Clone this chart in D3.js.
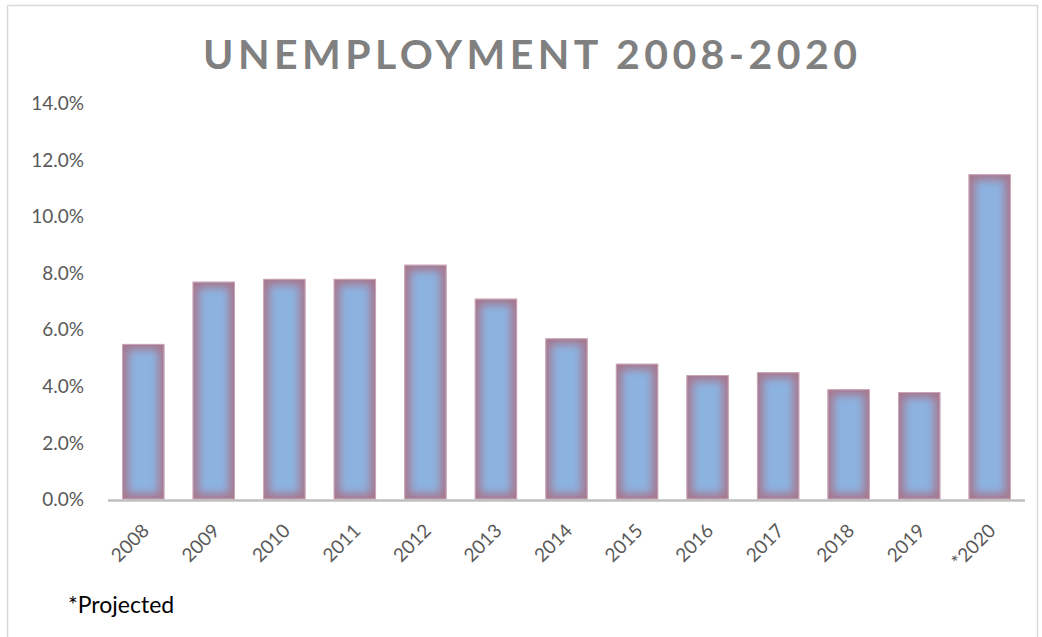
<!DOCTYPE html>
<html>
<head>
<meta charset="utf-8">
<script src="https://cdn.jsdelivr.net/npm/d3@7"></script>
<style>
  body { margin: 0; background: #fff; }
  svg { display: block; }
</style>
</head>
<body>
<script>
'use strict';

const years = ['2008', '2009', '2010', '2011', '2012', '2013', '2014', '2015', '2016', '2017', '2018', '2019', '*2020'];
const rates = [5.5, 7.7, 7.8, 7.8, 8.3, 7.1, 5.7, 4.8, 4.4, 4.5, 3.9, 3.8, 11.5];
const yTicks = [0, 2, 4, 6, 8, 10, 12, 14];
const title = 'UNEMPLOYMENT 2008-2020';
const note = '*Projected';

const width = 1042;
const height = 637;
const font = 'Lato, "Open Sans", sans-serif';

const $svg = d3.select('body').append('svg')
  .attr('width', width)
  .attr('height', height);

// chart frame
$svg.append('rect')
  .attr('x', 7.5).attr('y', 5.5)
  .attr('width', 1030).attr('height', 650)
  .attr('fill', 'none')
  .attr('stroke', '#d9d9d9')
  .attr('stroke-width', 1.5);

const x = d3.scaleBand()
  .domain(years)
  .range([108, 1025])
  .paddingInner(0.4)
  .paddingOuter(0.2);

const y = d3.scaleLinear()
  .domain([0, 14])
  .range([499.5, 103.5]);

const defs = $svg.append('defs');
defs.append('filter')
  .attr('id', 'soft')
  .attr('x', '-30%').attr('y', '-30%')
  .attr('width', '160%').attr('height', '160%')
  .append('feGaussianBlur')
  .attr('stdDeviation', 4);

// title
$svg.append('text')
  .attr('x', 203)
  .attr('y', 69)
  .attr('textLength', 654)
  .attr('lengthAdjust', 'spacing')
  .attr('font-family', font)
  .attr('font-weight', 'bold')
  .attr('font-size', 41)
  .attr('fill', '#808080')
  .text(title);

// y axis labels (no line)
const $yAxis = $svg.append('g')
  .attr('transform', 'translate(84,0)')
  .call(d3.axisLeft(y).tickValues(yTicks).tickSize(0).tickPadding(0)
    .tickFormat((d) => d3.format('.1f')(d) + '%'));
$yAxis.select('.domain').remove();
$yAxis.selectAll('text')
  .attr('font-family', font)
  .attr('font-size', 19)
  .attr('fill', '#595959');

// bars
const $bars = $svg.append('g').selectAll('.bar')
  .data(years.map((k, i) => ({ year: k, value: rates[i] })))
  .enter()
  .append('g')
  .attr('class', 'bar');

$bars.each(function(d, i) {
  const $g = d3.select(this);
  const bx = x(d.year);
  const bw = x.bandwidth();
  const by = y(d.value);
  const bh = y(0) - by;
  defs.append('clipPath')
    .attr('id', 'clip' + i)
    .append('rect')
    .attr('x', bx).attr('y', by)
    .attr('width', bw).attr('height', bh);
  $g.append('rect')
    .attr('x', bx).attr('y', by)
    .attr('width', bw).attr('height', bh)
    .attr('fill', '#a7778e');
  $g.append('g')
    .attr('clip-path', 'url(#clip' + i + ')')
    .append('rect')
    .attr('x', bx + 6).attr('y', by + 6)
    .attr('width', bw - 12).attr('height', Math.max(0, bh - 12))
    .attr('fill', '#8cb2e0')
    .attr('filter', 'url(#soft)');
  $g.append('rect')
    .attr('x', bx + 0.5).attr('y', by + 0.5)
    .attr('width', bw - 1).attr('height', bh - 1)
    .attr('fill', 'none')
    .attr('stroke', '#d8b9c6')
    .attr('stroke-width', 1)
    .attr('stroke-opacity', 0.7);
});

// x axis line
$svg.append('line')
  .attr('x1', 108).attr('x2', 1025)
  .attr('y1', 500.5).attr('y2', 500.5)
  .attr('stroke', '#bfbfbf')
  .attr('stroke-width', 2.5);

// x labels
$svg.append('g').selectAll('.xlabel')
  .data(years)
  .enter()
  .append('text')
  .attr('class', 'xlabel')
  .attr('text-anchor', 'end')
  .attr('transform', (d) => 'translate(' + (x(d) + x.bandwidth() / 2 + 7) + ',532) rotate(-45)')
  .attr('font-family', font)
  .attr('font-size', 19)
  .attr('fill', '#595959')
  .text((d) => d);

// footnote
$svg.append('text')
  .attr('x', 68)
  .attr('y', 613)
  .attr('font-family', font)
  .attr('font-size', 23)
  .attr('fill', '#000')
  .text(note);
</script>
</body>
</html>
